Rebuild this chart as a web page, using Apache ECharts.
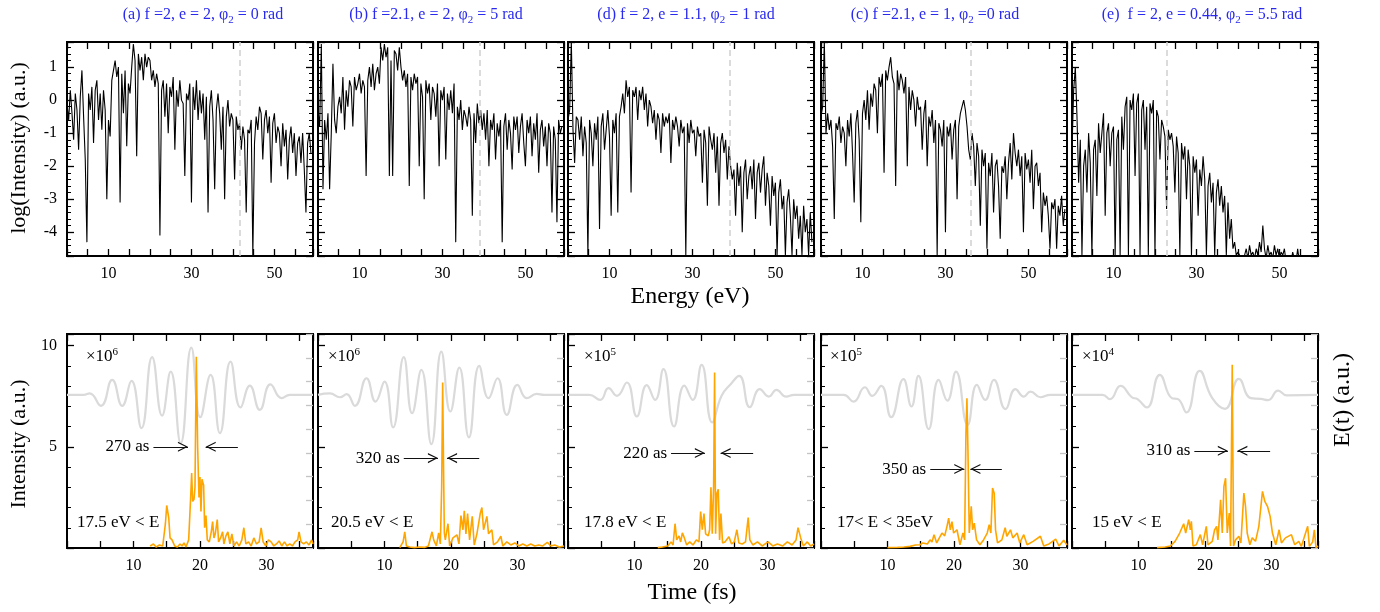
<!DOCTYPE html>
<html>
<head>
<meta charset="utf-8">
<title>HHG spectra and attosecond pulses</title>
<script src="https://cdn.jsdelivr.net/npm/echarts@6/dist/echarts.min.js"></script>
<style>
  html, body { margin: 0; padding: 0; background: #fff; }
  #main { width: 1380px; height: 612px; }
</style>
</head>
<body>
<div id="main"></div>
<script>
// ---- data ----
// panel order as printed: (a) (b) (d) (c) (e)
var panelTitles = [
  '(a) f =2, e = 2, φ{sub|2} = 0 rad',
  '(b) f =2.1, e = 2, φ{sub|2} = 5 rad',
  '(d) f = 2, e = 1.1, φ{sub|2} = 1 rad',
  '(c) f =2.1, e = 1, φ{sub|2} =0 rad',
  '(e)  f = 2, e = 0.44, φ{sub|2} = 5.5 rad'
];

// harmonic spectra, log10(intensity), sampled every energyStep eV from 0
var energyStep = 0.4;
var specA = [
  -0.1, -0.6, 0.3, -0.4, -1.2, 0.2, -0.3, -1.5, 0.1, 0.9,
  -0.5, -1.8, -4.3, 0.2, -0.3, 0.4, -1.3, 0.3, 0.6, -0.6,
  0.2, -0.9, 0.3, -0.3, -3.0, -0.6, -1.1, 0.6, 0.9, 1.2,
  0.7, 1.0, -3.1, 0.8, -0.4, 0.9, -1.4, 0.5, 0.2, 1.0,
  1.7, 1.2, -1.7, 1.4, 0.9, 1.3, 0.6, 1.4, 1.0, 1.3,
  1.2, 0.6, 0.9, 0.4, 0.8, 0.5, -4.1, 0.3, 0.6, -0.5,
  0.5, -1.0, 0.4, 0.1, 0.7, -1.5, 0.3, -0.2, 0.6, 0.0,
  -0.1, -2.3, 0.2, 0.0, 0.5, -3.1, 0.4, -0.3, 0.6, -0.6,
  0.3, -0.4, 0.2, -1.2, 0.1, -3.4, -0.2, 0.3, -0.6, -2.7,
  -0.3, 0.2, -0.4, -1.5, -0.2, -3.0, -0.5, 0.0, -0.8, -0.4,
  -0.6, -2.4, -0.5, -0.9, -0.7, -1.5, -0.8, -1.2, -3.4, -0.9,
  -1.0, -0.6, -4.7, -1.3, -0.5, -0.9, -0.2, -0.4, -1.8, -0.6,
  -0.3, -1.0, -0.5, -2.5, -0.7, -0.4, -1.3, -0.8, -1.0, -2.0,
  -0.7, -1.4, -0.9, -2.4, -1.2, -0.8, -1.6, -1.0, -2.3, -1.3,
  -1.1, -1.9, -1.0, -2.1, -3.4, -1.3, -1.0, -1.6
];
var specB = [
  -0.3, -0.8, 1.7, -2.7, -0.6, -1.2, -0.4, -2.7, -1.0, 1.1,
  -0.6, -1.0, -0.2, 0.1, -0.4, 0.7, -0.9, 0.3, -0.2, 0.6,
  0.4, -0.8, 0.7, 0.3, 0.5, 0.8, 0.2, 0.6, 0.4, -2.3,
  0.6, 1.0, 0.4, 1.1, 0.3, 0.8, 1.0, 0.5, 1.6, 1.2,
  1.7, 1.3, 1.6, -2.3, 1.2, -2.3, 1.5, 1.4, 0.9, 1.6,
  1.0, 0.6, 0.9, 0.4, 0.8, -2.6, 0.7, 0.3, 0.8, 0.5,
  0.7, -2.0, 0.5, 0.1, -3.0, 0.6, 0.2, 0.5, -0.6, 0.4,
  0.2, -0.5, 0.5, -2.0, 0.3, 0.0, 0.4, -1.8, 0.2, -0.3,
  0.3, -0.4, 0.5, -4.3, -0.2, -0.6, 0.0, -0.9, -0.3, -0.5,
  -0.8, -0.2, -0.6, -3.5, -0.4, -1.3, -0.1, -0.7, -0.3, -0.9,
  -0.4, -1.2, -0.3, -2.0, -0.6, -0.9, -0.4, -1.8, -0.7, -1.1,
  -0.6, -4.3, -0.8, -0.4, -1.5, -0.6, -1.0, -2.1, -0.5, -0.9,
  -0.5, -1.6, -0.8, -0.4, -1.3, -2.0, -0.6, -1.0, -0.5, -1.7,
  -0.7, -1.2, -0.4, -2.2, -0.9, -0.6, -1.4, -0.8, -2.0, -0.7,
  -1.0, -3.4, -0.8, -1.2, -3.7, -0.6, -1.0, -0.8
];
var specD = [
  -0.6, -0.3, 1.8, -0.9, -1.9, -0.5, -0.6, -1.2, -0.5, -1.7,
  -0.8, -1.3, -4.7, -0.6, -1.0, -2.0, -0.7, -1.2, -0.5, -3.9,
  -0.8, -0.4, -1.5, -0.9, -0.3, -1.1, -3.5, -0.6, -1.0, -0.4,
  -3.4, -0.5, -0.2, 0.2, -0.4, 0.6, 0.1, 0.4, -2.8, 0.3,
  0.1, 0.4, -0.6, 0.3, 0.0, 0.4, -0.3, 0.2, -0.8, 0.0,
  -0.2, -0.7, -0.3, -1.2, -0.4, -0.6, -1.6, -0.4, -0.8, -0.5,
  -0.7, -0.4, -1.9, -0.6, -0.9, -0.5, -0.8, -1.4, -0.6, -1.0,
  -0.8, -4.7, -0.7, -1.3, -0.6, -1.0, -0.9, -1.7, -0.8, -1.1,
  -1.0, -2.5, -0.9, -1.3, -3.2, -0.8, -1.2, -1.5, -1.0, -2.2,
  -1.1, -3.2, -1.3, -1.0, -1.6, -1.2, -2.4, -1.4, -2.0, -2.4,
  -2.1, -3.5, -1.9, -2.6, -2.0, -4.0, -2.2, -1.8, -3.0, -2.3,
  -2.0, -2.7, -1.8, -3.6, -2.2, -1.9, -2.8, -2.1, -1.7, -3.2,
  -2.2, -2.6, -3.8, -2.3, -2.9, -2.5, -4.7, -2.8, -2.4, -3.3,
  -2.9, -4.7, -3.1, -2.7, -3.5, -4.7, -3.0, -3.6, -3.2, -4.2,
  -3.5, -4.7, -3.2, -4.0, -3.6, -4.7, -3.4, -4.3
];
var specC = [
  -0.5, -0.2, 1.8, -1.0, -0.4, -0.9, -0.6, -1.4, -3.6, -0.7,
  -0.9, -0.5, -1.3, -0.8, -1.0, -2.0, -0.6, -1.1, -0.4, -1.6,
  -3.1, -0.7, -0.3, -1.2, -3.7, -0.4, 0.0, -0.6, 0.3, -0.9,
  0.2, -0.2, 0.5, 0.3, -1.0, 0.7, 0.4, 0.8, -2.2, 0.9,
  0.6, 1.0, 1.3, 0.7, 0.5, -2.6, 0.9, 0.3, 0.8, 0.6,
  0.2, 0.7, -2.0, 0.4, -0.3, 0.3, 0.0, -0.8, 0.1, -0.3,
  -0.2, -1.5, -0.4, 0.0, -2.0, -0.5, -0.8, -0.3, -1.3, -0.6,
  -4.7, -0.7, -0.9, -1.4, -0.6, -4.0, -0.8, -1.1, -0.7, -1.8,
  -0.9, -0.6, -3.0, -0.8, -0.4, -0.2, 0.0, -0.3, -0.8, -1.5,
  -1.8, -1.0, -1.4, -2.6, -1.3, -1.7, -3.8, -1.5, -2.0, -1.6,
  -4.5, -1.9, -2.3, -1.6, -3.4, -2.0, -1.8, -2.6, -4.2, -2.0,
  -2.2, -1.7, -3.0, -1.9, -1.3, -2.4, -1.0, -1.6, -2.0, -1.5,
  -2.3, -1.7, -4.0, -1.6, -2.1, -1.8, -2.5, -1.5, -3.3, -2.0,
  -1.9, -2.6, -2.2, -4.0, -2.8, -3.2, -2.9, -3.5, -4.5, -3.1,
  -3.3, -3.0, -4.5, -3.2, -3.5, -2.9, -3.8, -3.3
];
var specE = [
  -1.5, 0.3, 1.0, -0.5, -2.5, -1.2, -4.7, -2.0, -1.5, -2.8,
  -1.0, -1.9, -4.7, -1.5, -1.2, -2.9, -0.7, -1.6, -1.0, -0.4,
  -3.5, -1.0, -0.7, -2.0, -1.0, -0.8, -4.7, -1.2, -0.9, -4.7,
  -0.5, -1.5, -0.2, 0.1, -4.7, 0.0, -0.3, 0.2, -2.3, -0.1,
  0.2, -4.7, -0.3, 0.0, -1.5, -0.2, -4.7, -0.1, -0.4, 0.0,
  -4.7, -0.3, -0.5, -1.8, -0.6, -0.8, -1.1, -3.3, -0.9, -1.2,
  -1.0, -1.4, -2.8, -1.1, -1.6, -4.7, -1.3, -1.8, -1.4, -3.0,
  -1.5, -2.0, -4.7, -1.7, -2.2, -1.8, -3.5, -2.1, -2.6, -1.7,
  -2.4, -4.7, -2.6, -2.2, -3.1, -2.5, -4.7, -2.8, -2.4, -3.2,
  -2.6, -3.4, -2.9, -4.7, -3.1, -4.2, -3.6, -4.5, -4.3, -4.7,
  -4.6, -4.7, -4.7, -4.8, -4.7, -4.5, -4.8, -4.4, -4.7, -4.6,
  -4.8, -4.5, -4.7, -4.3, -4.6, -3.8, -4.5, -4.8, -4.4, -4.7,
  -4.6, -4.8, -4.4, -4.7, -4.5, -4.8, -4.6, -4.7, -4.5, -4.9,
  -4.8, -4.7, -4.9, -4.6, -4.8, -4.9, -4.5, -4.9, -5.0, -5.0,
  -5.0, -5.0, -5.0, -5.0, -5.0, -5.0, -5.0, -5.0
];
var spectra = [specA, specB, specD, specC, specE];
var cutoffEnergy = [41.65, 39.0, 39.0, 36.0, 22.9];

// filtered attosecond pulses, [time fs, intensity]
var pulseA = [[12.5,0.1],[13,0.2],[13.4,0.05],[13.9,0.15],[14.4,0.1],[14.8,1.2],[15.0,2.1],[15.3,1.5],[15.5,0.5],[15.8,0.4],[16.2,0.1],[16.6,0.05],[17.0,0.2],[17.3,0.1],[17.6,0.25],[17.9,0.05],[18.3,0.4],[18.6,2.5],[18.75,3.7],[18.9,2.3],[19.1,2.4],[19.25,3.0],[19.45,9.45],[19.65,5.0],[19.85,2.5],[20.0,3.5],[20.15,1.8],[20.3,3.4],[20.55,3.1],[20.7,1.0],[20.9,1.6],[21.1,0.4],[21.4,0.3],[21.7,0.8],[21.9,1.3],[22.1,0.5],[22.3,0.7],[22.6,1.4],[22.8,0.3],[23.1,0.5],[23.4,0.8],[23.6,0.2],[23.9,0.6],[24.2,0.8],[24.5,0.2],[24.8,0.7],[25.1,0.1],[25.5,0.3],[25.9,0.1],[26.3,0.4],[26.6,1.0],[26.9,0.2],[27.3,0.3],[27.7,0.1],[28.1,0.5],[28.5,0.2],[28.9,0.3],[29.2,1.0],[29.5,0.3],[29.9,0.1],[30.3,0.4],[30.7,0.3],[31.1,0.1],[31.5,0.2],[31.9,0.35],[32.3,0.1],[32.7,0.3],[33.1,0.1],[33.5,0.2],[33.9,0.1],[34.3,0.3],[34.7,0.4],[34.9,0.8],[35.2,0.3],[35.6,0.2],[36.0,0.3],[36.4,0.15],[36.8,0.4],[37,0.2]];
var pulseB = [[12.3,0.02],[12.8,0.3],[13.05,0.8],[13.3,0.1],[13.8,0.05],[14.5,0.02],[15.3,0.05],[16.0,0.03],[16.6,0.1],[17.15,0.8],[17.4,0.4],[17.8,0.1],[18.15,0.75],[18.4,0.2],[18.6,3.0],[18.75,8.17],[18.9,3.5],[19.0,0.75],[19.15,0.4],[19.55,1.2],[19.8,0.1],[20.3,0.5],[20.9,0.65],[21.2,0.2],[21.5,1.6],[21.8,0.9],[22.0,1.84],[22.25,0.7],[22.5,1.7],[22.8,0.4],[23.2,1.56],[23.5,0.15],[23.9,0.7],[24.4,1.7],[24.65,2.0],[24.9,0.9],[25.4,1.56],[25.65,0.7],[26.15,0.9],[26.4,0.15],[27.0,0.3],[27.5,0.58],[27.8,0.1],[28.4,0.3],[29.0,0.15],[29.6,0.25],[30.2,0.1],[30.8,0.2],[31.4,0.1],[32.0,0.2],[32.6,0.1],[33.2,0.15],[33.8,0.1],[34.5,0.28],[35.0,0.1],[35.6,0.15],[36.3,0.05],[37,0.1]];
var pulseD = [[13.5,0.02],[14.2,0.05],[15.0,0.1],[15.5,0.3],[15.8,0.15],[16.1,1.2],[16.35,0.4],[16.7,0.6],[16.95,0.3],[17.2,0.75],[17.5,0.5],[17.85,0.15],[18.3,0.3],[18.8,0.15],[19.3,0.4],[19.7,0.3],[19.95,1.8],[20.2,0.9],[20.45,1.7],[20.7,0.7],[21.1,0.6],[21.3,0.9],[21.5,3.0],[21.7,0.7],[21.9,3.0],[22.05,8.67],[22.2,0.7],[22.4,2.7],[22.6,2.9],[22.8,0.4],[23.0,1.7],[23.25,0.25],[23.6,0.3],[24.2,0.55],[24.6,0.2],[25.0,0.3],[25.4,0.9],[25.7,0.25],[26.2,0.2],[26.7,0.3],[27.1,1.5],[27.35,0.4],[27.8,0.15],[28.5,0.3],[29.2,0.1],[30.1,0.3],[30.8,0.1],[31.5,0.2],[32.3,0.1],[33.0,0.3],[33.7,0.15],[34.3,0.4],[34.6,1.0],[35.0,0.5],[35.4,0.1],[36.0,0.3],[36.5,0.1],[37,0.2]];
var pulseC = [[10,0.02],[11.5,0.03],[12.5,0.05],[13.4,0.08],[14.2,0.15],[14.9,0.16],[15.3,0.25],[15.6,0.33],[16.0,0.2],[16.4,0.4],[16.7,0.3],[17.0,0.66],[17.4,0.25],[17.8,0.5],[18.2,0.74],[18.6,0.6],[18.95,1.07],[19.2,1.48],[19.45,0.9],[19.7,1.3],[19.95,0.74],[20.45,0.9],[20.9,0.16],[21.35,0.74],[21.6,0.4],[21.8,5.67],[21.95,7.4],[22.1,4.85],[22.3,0.74],[22.6,2.06],[22.8,0.9],[23.05,1.23],[23.4,0.4],[23.9,0.16],[24.45,0.4],[25.0,0.74],[25.3,1.15],[25.55,0.74],[25.8,2.96],[26.05,2.71],[26.25,0.9],[26.55,0.25],[27.2,0.4],[27.7,1.0],[27.95,0.58],[28.5,0.9],[28.85,0.5],[29.5,0.74],[29.9,0.25],[30.5,0.66],[31.0,0.16],[31.9,0.33],[33.0,0.58],[33.5,0.1],[34.3,0.2],[35.3,0.44],[35.8,0.1],[36.5,0.38],[37,0.15]];
var pulseE = [[12.8,0.02],[14.0,0.05],[14.8,0.1],[15.5,0.33],[16.2,0.74],[16.8,1.2],[17.1,0.74],[17.55,1.4],[17.8,0.9],[17.95,1.32],[18.2,0.1],[18.7,0.16],[19.3,0.66],[19.65,0.16],[20.2,1.07],[20.45,0.16],[21.1,0.33],[21.45,0.9],[21.75,1.07],[21.95,0.4],[22.35,2.38],[22.6,0.74],[22.85,3.04],[23.1,3.45],[23.35,0.74],[23.65,1.73],[23.85,0.1],[24.1,9.05],[24.3,0.1],[24.6,0.4],[25.1,0.58],[25.4,0.25],[25.85,2.71],[26.1,2.06],[26.35,0.74],[26.75,0.16],[27.1,0.5],[27.6,0.33],[28.1,1.07],[28.65,2.8],[29.0,2.3],[29.4,2.06],[29.8,1.56],[30.15,0.74],[30.65,0.16],[31.15,0.9],[31.5,0.25],[32.1,0.5],[33.0,0.66],[33.5,0.16],[34.1,0.33],[34.5,0.08],[35.45,1.07],[35.7,0.08],[36.2,0.3],[36.45,0.9],[36.7,0.02],[37,0.1]];
var pulses = [pulseA, pulseB, pulseD, pulseC, pulseE];

// driving field E(t), [time fs, a.u. on the right-hand axis]
var fieldA = [[0,6.44],[2.5,6.44],[3.4,6.5],[5.1,5.98],[6.8,7.07],[8.3,5.98],[9.7,7.03],[11.2,5.04],[12.8,8.03],[14.3,5.57],[15.6,7.42],[17.1,4.41],[18.7,8.43],[20.05,5.5],[21.6,7.28],[23,4.83],[24.6,7.84],[26.1,5.91],[27.5,6.83],[29,5.81],[30.6,6.88],[32.3,6.3],[33.5,6.44],[37,6.44]];
var fieldB = [[0,6.44],[1.8,6.5],[3.3,6.34],[4.3,6.47],[5.55,5.98],[7.3,7.14],[8.65,6.16],[10,7.0],[11.3,5.07],[12.9,8.03],[14.15,5.67],[15.55,7.49],[17.05,4.37],[18.55,8.26],[19.9,5.74],[21.25,7.59],[22.7,4.65],[24.25,7.66],[25.65,6.3],[27.0,7.14],[28.4,5.6],[30,6.86],[31.4,6.3],[32.9,6.48],[34,6.44],[37,6.44]];
var fieldD = [[0,6.44],[3.2,6.44],[4.85,6.23],[6.1,6.72],[7.35,6.4],[8.85,6.96],[10.35,5.53],[11.85,6.85],[13.1,6.23],[14.35,7.52],[15.95,5.11],[17.5,6.83],[18.75,6.23],[20.1,7.7],[21.7,5.28],[23.1,6.4],[24.5,6.9],[25.75,7.24],[27.35,5.92],[28.85,6.68],[30.2,6.37],[31.35,6.65],[32.8,6.37],[34,6.44],[37,6.44]];
var fieldC = [[0,6.44],[3.4,6.44],[4.9,6.16],[6.6,6.76],[7.7,6.4],[9.05,6.82],[10.55,5.5],[12.4,7.1],[13.6,5.95],[14.65,7.24],[16.2,5.0],[17.7,7.07],[19.0,6.2],[20.3,7.42],[22.05,5.18],[23.45,6.86],[24.7,6.23],[26,7.07],[27.75,5.84],[29.25,6.68],[30.5,6.37],[31.5,6.58],[33,6.34],[34.5,6.44],[37,6.44]];
var fieldE = [[0,6.44],[4.6,6.44],[5.7,6.26],[7.3,6.82],[9.0,6.34],[9.85,6.26],[11.25,5.91],[13.2,7.28],[15.05,6.3],[15.9,6.27],[17.2,5.7],[19.2,7.45],[21.1,6.3],[23.0,5.85],[25.1,7.11],[26.9,6.3],[28.4,6.27],[29.5,6.22],[31.0,6.62],[32.3,6.42],[37,6.44]];
var fields = [fieldA, fieldB, fieldD, fieldC, fieldE];

// pulse width arrows: [left tail, left head, right head, right tail, height]
var widthArrows = [
  [13.0, 18.2, 20.85, 25.7, 5.0],
  [12.9, 18.05, 19.4, 24.25, 4.44],
  [15.5, 20.6, 22.95, 27.85, 4.69],
  [16.43, 21.56, 22.46, 27.2, 3.9],
  [18.4, 23.45, 24.86, 29.8, 4.8]
];
var pulseWidth = ['270 as', '320 as', '220 as', '350 as', '310 as'];
var energyWindow = ['17.5 eV < E', '20.5 eV < E', '17.8 eV < E', '17< E < 35eV', '15 eV < E'];
var scalePower = ['6', '6', '5', '5', '4'];
var energyLabels = [10, 30, 50];
var timeLabels = [10, 20, 30];
var logLabels = [-4, -3, -2, -1, 0, 1];
var intensityLabels = [5, 10];

// ---- layout ----
var serif = '"Liberation Serif", "Times New Roman", serif';
var lefts = [67, 318, 568, 821, 1072];
var titleCenters = [203, 436, 686, 935, 1202];
var scaleOffset = [19, 10, 16, 9, 10];
var windowOffset = [10, 13, 16, 16, 20];
var panelW = 246, panelH = 214, topRow = 42, bottomRow = 334;
var chevron = 'path://M0,0L0,0M24,24L24,24M12,12L17.5,23L16,23L12,14.8L8,23L6.5,23Z';

var chart = echarts.init(document.getElementById('main'));

var grids = [], xAxes = [], yAxes = [], series = [], graphics = [];

function axis(o) {
  return Object.assign({
    type: 'value',
    axisLine: { show: false, onZero: false },
    splitLine: { show: false },
    axisTick: { show: true, inside: true, length: 7, lineStyle: { color: '#000', width: 1.3 } },
    axisLabel: { show: false },
    silent: true
  }, o);
}
function labelStyle(list, show) {
  return {
    show: show, margin: 10, color: '#000', fontFamily: serif, fontSize: 16,
    formatter: function (v) { return list.indexOf(v) >= 0 ? String(v) : ''; }
  };
}
var minor = { show: true, splitNumber: 5, length: 4, lineStyle: { color: '#000', width: 1 } };

for (var i = 0; i < 5; i++) {
  // top row: spectra
  var g = grids.length, xi = xAxes.length, yi = yAxes.length;
  grids.push({ left: lefts[i], top: topRow, width: panelW, height: panelH, show: true,
    borderColor: '#000', borderWidth: 2, outerBoundsMode: 'none' });
  xAxes.push(axis({ gridIndex: g, position: 'bottom', min: 0, max: 59.3, interval: 5,
    axisLabel: labelStyle(energyLabels, true) }));
  xAxes.push(axis({ gridIndex: g, position: 'top', min: 0, max: 59.3, interval: 5 }));
  yAxes.push(axis({ gridIndex: g, position: 'left', min: -4.72, max: 1.76, minInterval: 1, maxInterval: 1,
    minorTick: minor, axisLabel: labelStyle(logLabels, i === 0) }));
  yAxes.push(axis({ gridIndex: g, position: 'right', min: -4.72, max: 1.76, minInterval: 1, maxInterval: 1,
    minorTick: minor }));

  series.push({
    type: 'line', xAxisIndex: xi, yAxisIndex: yi,
    data: spectra[i].map(function (v, k) { return [k * energyStep, v]; }),
    symbol: 'none', clip: true, silent: true,
    lineStyle: { color: '#000', width: 1.1 },
    markLine: {
      silent: true, symbol: ['none', 'none'], label: { show: false },
      lineStyle: { color: '#d0d0d0', type: [6, 4], width: 1.5 },
      data: [{ xAxis: cutoffEnergy[i] }]
    }
  });

  // bottom row: pulses and field
  g = grids.length; xi = xAxes.length; yi = yAxes.length;
  grids.push({ left: lefts[i], top: bottomRow, width: panelW, height: panelH, show: true,
    borderColor: '#000', borderWidth: 2, outerBoundsMode: 'none' });
  xAxes.push(axis({ gridIndex: g, position: 'bottom', min: 0, max: 37, interval: 5,
    axisLabel: labelStyle(timeLabels, true) }));
  xAxes.push(axis({ gridIndex: g, position: 'top', min: 0, max: 37, interval: 5 }));
  yAxes.push(axis({ gridIndex: g, position: 'left', min: 0, max: 10.57, interval: 5,
    minorTick: minor, axisLabel: labelStyle(intensityLabels, i === 0) }));
  yAxes.push(axis({ gridIndex: g, position: 'right', min: 0, max: 9, interval: 1,
    axisTick: { show: true, inside: true, length: 7, lineStyle: { color: '#c4c4c4', width: 1.3 } } }));

  series.push({
    type: 'line', xAxisIndex: xi, yAxisIndex: yi + 1,
    data: fields[i], symbol: 'none', smooth: 0.5, silent: true,
    lineStyle: { color: '#dadada', width: 2.2 }
  });
  var a = widthArrows[i];
  series.push({
    type: 'line', xAxisIndex: xi, yAxisIndex: yi,
    data: pulses[i], symbol: 'none', silent: true, z: 3,
    lineStyle: { color: '#ffa500', width: 1.6 },
    markLine: {
      silent: true, symbol: ['none', chevron], symbolSize: 22,
      lineStyle: { color: '#111', width: 1, type: 'solid' },
      label: { show: false },
      emphasis: { disabled: true },
      data: [
        [{ coord: [a[0], a[4]],
           label: { show: true, position: 'start', distance: 4, formatter: pulseWidth[i],
                    color: '#000', fontFamily: serif, fontSize: 17 } },
         { coord: [a[1], a[4]] }],
        [{ coord: [a[3], a[4]] }, { coord: [a[2], a[4]] }]
      ]
    }
  });

  // panel texts
  graphics.push({
    type: 'text', x: titleCenters[i], y: 15, silent: true,
    style: { text: panelTitles[i], fill: '#2a2aee', font: '16px ' + serif,
      textAlign: 'center', textVerticalAlign: 'middle', align: 'center', verticalAlign: 'middle',
      rich: { sub: { fontSize: 11, fontFamily: serif, fill: '#2a2aee', padding: [10, 0, 0, 0] } } }
  });
  graphics.push({
    type: 'text', x: lefts[i] + scaleOffset[i], y: 357, silent: true,
    style: { text: '×10{sup|' + scalePower[i] + '}', fill: '#000', font: '17px ' + serif,
      textAlign: 'left', textVerticalAlign: 'middle', align: 'left', verticalAlign: 'middle',
      rich: { sup: { fontSize: 11, fontFamily: serif, fill: '#000', padding: [0, 0, 10, 0] } } }
  });
  graphics.push({
    type: 'text', x: lefts[i] + windowOffset[i], y: 523, silent: true,
    style: { text: energyWindow[i], fill: '#000', font: '17px ' + serif,
      textAlign: 'left', textVerticalAlign: 'middle', align: 'left', verticalAlign: 'middle' }
  });
}

function axisTitle(text, x, y, size, rotate) {
  return {
    type: 'text', x: x, y: y, rotation: rotate ? Math.PI / 2 : 0, silent: true,
    style: { text: text, fill: '#000', font: size + 'px ' + serif,
      textAlign: 'center', textVerticalAlign: 'middle', align: 'center', verticalAlign: 'middle' }
  };
}
graphics.push(axisTitle('Energy (eV)', 690, 297, 24, false));
graphics.push(axisTitle('Time (fs)', 692, 593, 24, false));
graphics.push(axisTitle('log(Intensity) (a.u.)', 19, 148, 22, true));
graphics.push(axisTitle('Intensity (a.u.)', 19, 444, 22, true));
graphics.push(axisTitle('E(t) (a.u.)', 1343, 400, 24, true));

chart.setOption({
  backgroundColor: '#fff',
  animation: false,
  grid: grids,
  xAxis: xAxes,
  yAxis: yAxes,
  series: series,
  graphic: graphics
});
</script>
</body>
</html>
